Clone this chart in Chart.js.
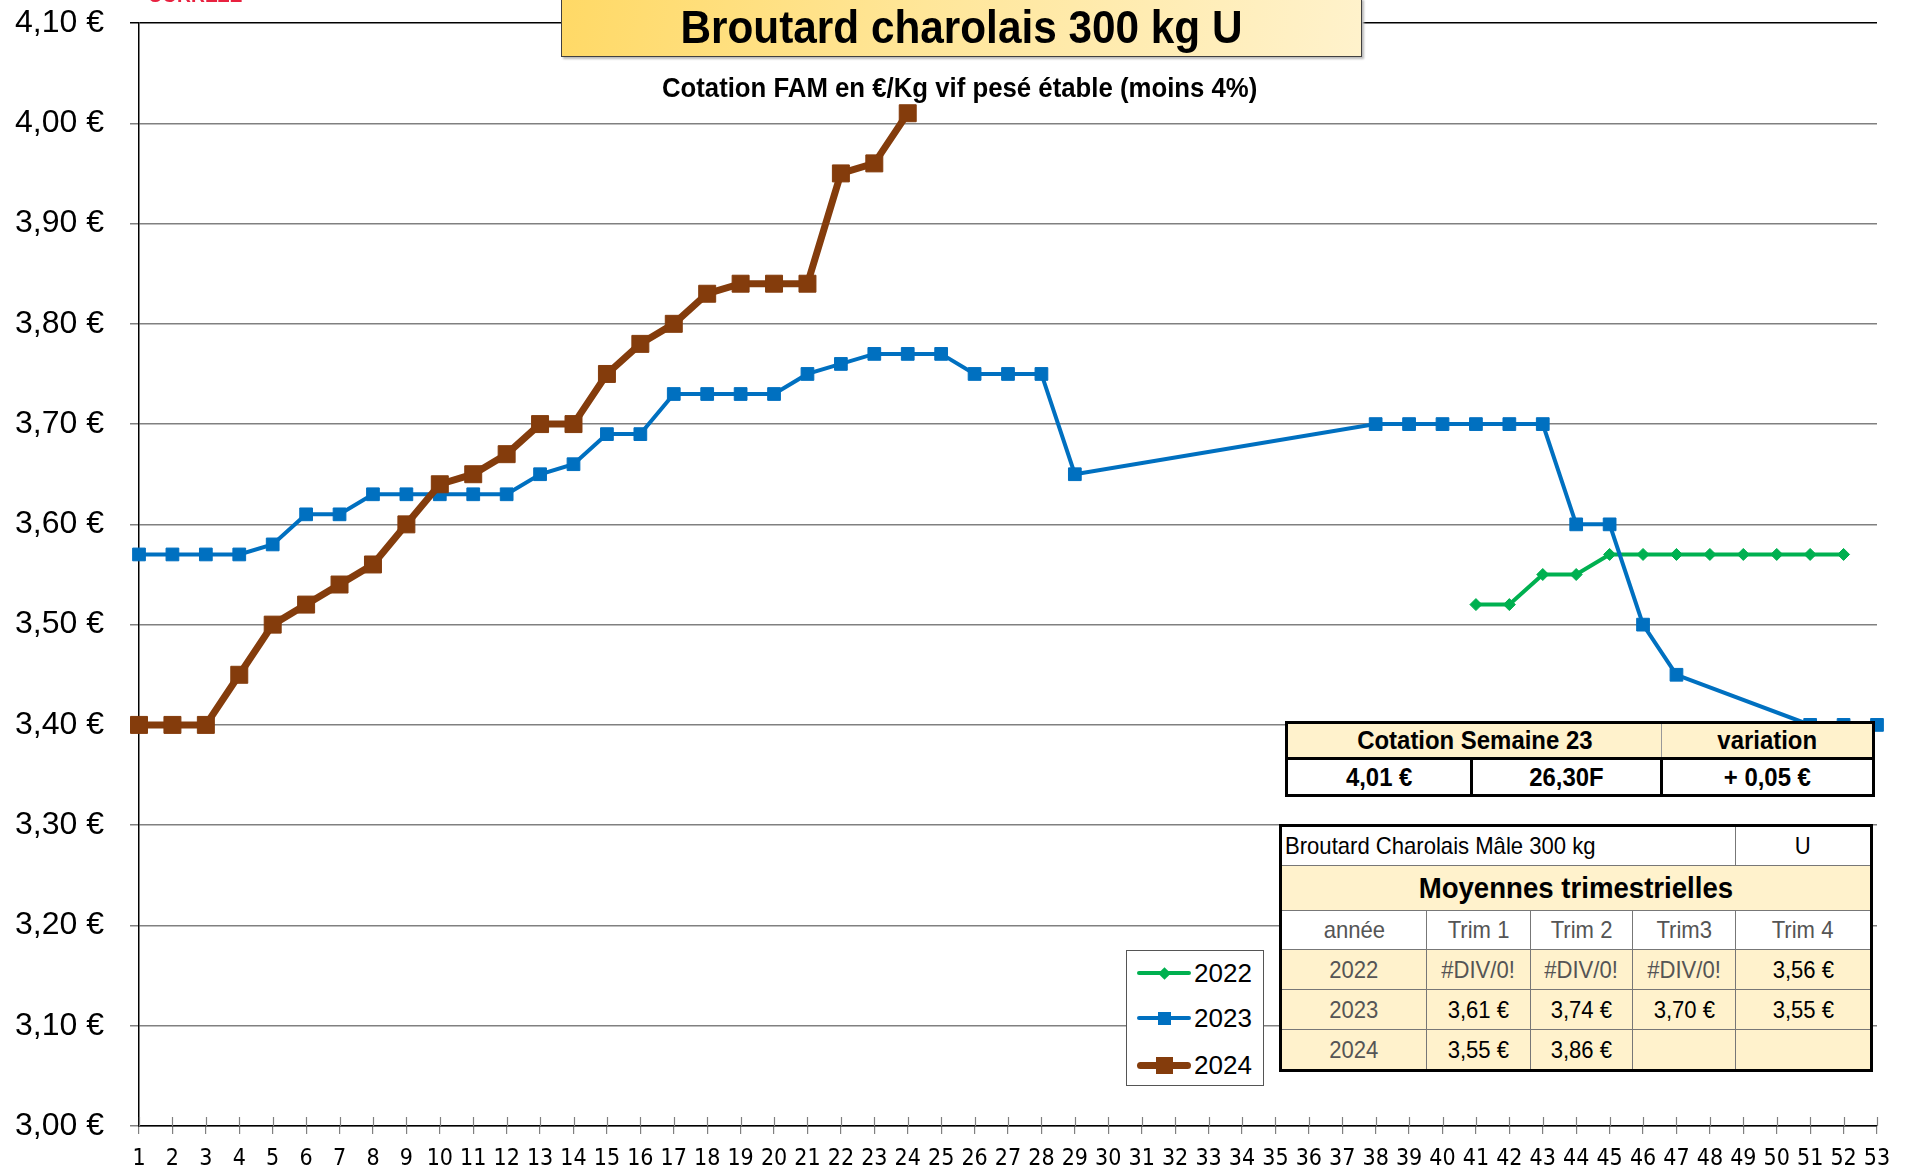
<!DOCTYPE html>
<html>
<head>
<meta charset="utf-8">
<script src="https://cdn.jsdelivr.net/npm/chart.js@4.4.1/dist/chart.umd.min.js"></script>
<style>
  body { margin: 0; background: #fff; }
  #wrap { position: relative; width: 1913px; height: 1171px; overflow: hidden; font-family: "Liberation Sans", Arial, sans-serif; }
  #chart { position: absolute; left: 0; top: 0; }
  .n { display: inline-block; transform: scaleX(0.92); white-space: nowrap; }
  .nl { transform-origin: left center; }
  #region { position: absolute; left: 148px; top: -17px; color: #e8213f; font-weight: bold; font-size: 21px; }
  #titleBox {
    position: absolute; left: 561px; top: -2px; width: 799px; height: 57px;
    border: 1.5px solid #404040; box-shadow: 2px 2px 2px #bbb;
    background: linear-gradient(100deg, #ffd966 0%, #ffe699 45%, #fff2cc 100%);
    text-align: center; font-weight: bold; font-size: 46px; line-height: 57px;
  }
  #subtitle { position: absolute; left: 560px; width: 800px; top: 72px; text-align: center; font-weight: bold; font-size: 28px; }
  table { position: absolute; border-collapse: collapse; background: #fff; table-layout: fixed; }
  td { padding: 0; text-align: center; overflow: hidden; }
  #cot { left: 1285px; top: 721px; width: 590px; font-weight: bold; font-size: 26px; border: 3px solid #000; }
  #cot .h td { background: #fff2cc; height: 33px; border-bottom: 3px solid #000; }
  #cot .v td { height: 34px; border: 3px solid #000; }
  #cot .h td.var { border-left: 1px solid #999; }
  #moy { left: 1279px; top: 824px; width: 594px; border: 3px solid #000; font-size: 24px; }
  #moy td { border: 1px solid #777; }
  #moy .r1 td { height: 38px; background: #fff; }
  #moy .r2 td { height: 44px; background: #fff2cc; font-weight: bold; font-size: 30px; }
  #moy .r3 td { height: 38px; background: #fff; color: #555; }
  #moy .y td { height: 39px; background: #fff2cc; }
  #moy td.g { color: #555; }
  #legend {
    position: absolute; left: 1126px; top: 950px; width: 136px; height: 134px;
    border: 1.5px solid #555; background: #fff; font-size: 26px;
  }
  .lg { position: absolute; left: 10px; height: 30px; width: 130px; }
  .lg .ln { position: absolute; left: 0; width: 54px; border-radius: 4px; }
  .lg .mk { position: absolute; }
  .lg .tx { position: absolute; left: 57px; top: 0; line-height: 30px; }
</style>
</head>
<body>
<div id="wrap">
  <canvas id="chart" width="1913" height="1171"></canvas>
  <div id="region"><span class="n nl">CORREZE</span></div>
  <div id="titleBox"><span class="n">Broutard charolais 300 kg U</span></div>
  <div id="subtitle"><span class="n">Cotation FAM en €/Kg vif pesé étable (moins 4%)</span></div>

  <table id="cot">
    <colgroup><col style="width:185px"><col style="width:190px"><col></colgroup>
    <tr class="h"><td colspan="2"><span class="n">Cotation Semaine 23</span></td><td class="var"><span class="n">variation</span></td></tr>
    <tr class="v"><td><span class="n">4,01 €</span></td><td><span class="n">26,30F</span></td><td><span class="n">+ 0,05 €</span></td></tr>
  </table>

  <table id="moy">
    <colgroup><col style="width:146px"><col style="width:104px"><col style="width:102px"><col style="width:103px"><col></colgroup>
    <tr class="r1"><td colspan="4" style="text-align:left;padding-left:3px"><span class="n nl">Broutard Charolais Mâle 300 kg</span></td><td><span class="n">U</span></td></tr>
    <tr class="r2"><td colspan="5"><span class="n">Moyennes trimestrielles</span></td></tr>
    <tr class="r3"><td><span class="n">année</span></td><td><span class="n">Trim 1</span></td><td><span class="n">Trim 2</span></td><td><span class="n">Trim3</span></td><td><span class="n">Trim 4</span></td></tr>
    <tr class="y"><td class="g"><span class="n">2022</span></td><td class="g"><span class="n">#DIV/0!</span></td><td class="g"><span class="n">#DIV/0!</span></td><td class="g"><span class="n">#DIV/0!</span></td><td><span class="n">3,56 €</span></td></tr>
    <tr class="y"><td class="g"><span class="n">2023</span></td><td><span class="n">3,61 €</span></td><td><span class="n">3,74 €</span></td><td><span class="n">3,70 €</span></td><td><span class="n">3,55 €</span></td></tr>
    <tr class="y"><td class="g"><span class="n">2024</span></td><td><span class="n">3,55 €</span></td><td><span class="n">3,86 €</span></td><td></td><td></td></tr>
  </table>

  <div id="legend"></div>
</div>

<script>
const weeks = ["1","2","3","4","5","6","7","8","9","10","11","12","13","14","15","16","17","18","19","20",
  "21","22","23","24","25","26","27","28","29","30","31","32","33","34","35","36","37","38","39","40",
  "41","42","43","44","45","46","47","48","49","50","51","52","53"];

const prix2022 = [null, null, null, null, null, null, null, null, null, null,
  null, null, null, null, null, null, null, null, null, null,
  null, null, null, null, null, null, null, null, null, null,
  null, null, null, null, null, null, null, null, null, null,
  3.52, 3.52, 3.55, 3.55, 3.57, 3.57, 3.57, 3.57, 3.57, 3.57, 3.57, 3.57, null];

const prix2023 = [3.57, 3.57, 3.57, 3.57, 3.58, 3.61, 3.61, 3.63, 3.63, 3.63,
  3.63, 3.63, 3.65, 3.66, 3.69, 3.69, 3.73, 3.73, 3.73, 3.73,
  3.75, 3.76, 3.77, 3.77, 3.77, 3.75, 3.75, 3.75, 3.65, null,
  null, null, null, null, null, null, null, 3.70, 3.70, 3.70,
  3.70, 3.70, 3.70, 3.60, 3.60, 3.50, 3.45, null, null, null, 3.40, 3.40, 3.40];

const prix2024 = [3.40, 3.40, 3.40, 3.45, 3.50, 3.52, 3.54, 3.56, 3.60, 3.64,
  3.65, 3.67, 3.70, 3.70, 3.75, 3.78, 3.80, 3.83, 3.84, 3.84,
  3.84, 3.95, 3.96, 4.01];

const yMin = 3.0;
const yMax = 4.1;
const yStep = 0.1;

const NARROW = "'DejaVu Sans Condensed', 'Liberation Sans', sans-serif";
const SANS = "'Liberation Sans', Arial, sans-serif";

const formatEuro = (v) => v.toFixed(2).replace(".", ",") + " €";

// petits traits de graduation qui traversent l'axe des semaines
const crossTicks = {
  id: "crossTicks",
  afterDatasetsDraw(chart) {
    const x = chart.scales.x;
    const ctx = chart.ctx;
    ctx.save();
    ctx.strokeStyle = "#808080";
    ctx.lineWidth = 1.2;
    ctx.beginPath();
    x.ticks.forEach((t, i) => {
      const px = Math.round(x.getPixelForTick(i)) + 0.5;
      ctx.moveTo(px, x.top - 9);
      ctx.lineTo(px, x.top);
    });
    ctx.stroke();
    ctx.restore();
  },
};

const chart = new Chart(document.getElementById("chart"), {
  type: "line",
  data: {
    labels: weeks,
    datasets: [
      {
        label: "2022",
        data: prix2022,
        borderColor: "#00b050",
        backgroundColor: "#00b050",
        borderWidth: 4,
        pointStyle: "rectRot",
        pointRadius: 6,
        pointBorderWidth: 1,
        spanGaps: true,
        order: 2,
      },
      {
        label: "2023",
        data: prix2023,
        borderColor: "#0070c0",
        backgroundColor: "#0070c0",
        borderWidth: 4,
        pointStyle: "rect",
        pointRadius: 9,
        pointBorderWidth: 1,
        spanGaps: true,
        order: 1,
      },
      {
        label: "2024",
        data: prix2024,
        borderColor: "#843c0c",
        backgroundColor: "#843c0c",
        borderWidth: 7,
        pointStyle: "rect",
        pointRadius: 12,
        pointBorderWidth: 1,
        spanGaps: true,
        order: 0,
      },
    ],
  },
  options: {
    responsive: false,
    animation: false,
    layout: { padding: { left: 0, right: 36, top: 23, bottom: 0 } },
    plugins: { legend: { display: false }, tooltip: { enabled: false } },
    scales: {
      x: {
        offset: false,
        afterFit: (s) => { s.height = 45; },
        border: { display: true, color: "#000", width: 1.5 },
        grid: { drawOnChartArea: false, drawTicks: true, tickLength: 8, color: "#808080", lineWidth: 1.2 },
        ticks: {
          autoSkip: false, maxRotation: 0, minRotation: 0, padding: 11,
          color: "#000", font: { family: NARROW, size: 23 },
        },
      },
      y: {
        min: yMin,
        max: yMax,
        afterFit: (s) => { s.width = 139; s.paddingTop = 0; s.paddingBottom = 0; },
        border: { display: true, color: "#000", width: 1.5 },
        grid: {
          tickLength: 9,
          lineWidth: 1.5,
          color: (c) => (Math.abs(c.tick.value - yMax) < 1e-6 ? "#000" : "#808080"),
        },
        ticks: {
          stepSize: yStep,
          padding: 26,
          color: "#000",
          font: { family: SANS, size: 32 },
          callback: (v) => formatEuro(v),
        },
      },
    },
  },
  plugins: [crossTicks],
});

// légende construite à partir des séries
const legend = document.getElementById("legend");
const rowTops = [7, 52, 99];
chart.data.datasets.forEach((ds, i) => {
  const row = document.createElement("div");
  row.className = "lg";
  row.style.top = rowTops[i] + "px";
  const thick = ds.borderWidth;
  const ln = document.createElement("div");
  ln.className = "ln";
  ln.style.background = ds.borderColor;
  ln.style.height = thick + "px";
  ln.style.top = (15 - thick / 2) + "px";
  const mk = document.createElement("div");
  mk.className = "mk";
  const side = ds.pointStyle === "rectRot" ? 9 : Math.round(ds.pointRadius * 1.414);
  mk.style.width = side + "px";
  mk.style.height = side + "px";
  mk.style.left = (27 - side / 2) + "px";
  mk.style.top = (15 - side / 2) + "px";
  mk.style.background = ds.backgroundColor;
  if (ds.pointStyle === "rectRot") mk.style.transform = "rotate(45deg)";
  const tx = document.createElement("div");
  tx.className = "tx";
  tx.textContent = ds.label;
  row.appendChild(ln);
  row.appendChild(mk);
  row.appendChild(tx);
  legend.appendChild(row);
});
</script>
</body>
</html>
